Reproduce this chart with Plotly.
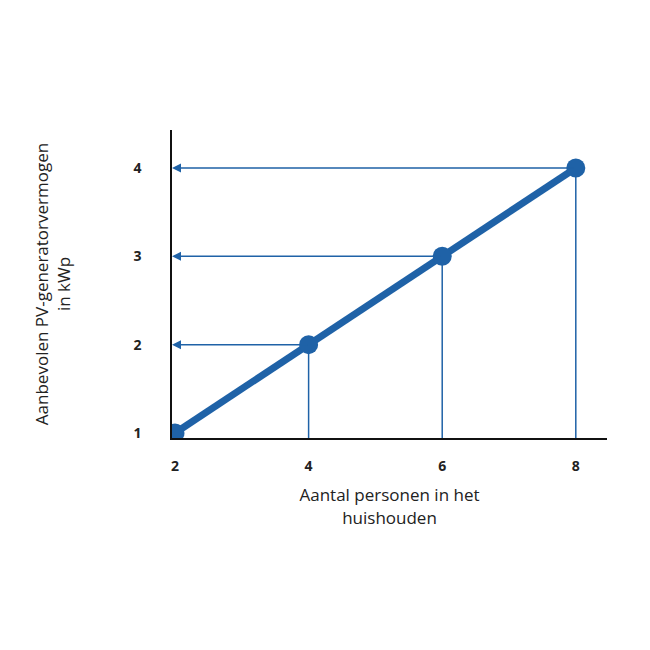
import plotly.graph_objects as go

persons = [2, 4, 6, 8]
kwp = [1, 2, 3, 4]
x_ticks = [2, 4, 6, 8]
y_ticks = [1, 2, 3, 4]
blue = "#1f62a7"
x0, y0 = 1.955, 0.943

fig = go.Figure()
for xv, yv in zip(persons[1:], kwp[1:]):
    fig.add_trace(go.Scatter(x=[xv, xv], y=[y0, yv], mode="lines",
                             line=dict(color=blue, width=1.5), hoverinfo="skip"))
    fig.add_annotation(x=x0, y=yv, ax=xv, ay=yv, xref="x", yref="y", axref="x", ayref="y",
                       showarrow=True, arrowhead=2, arrowsize=1.2, arrowwidth=1.5,
                       arrowcolor=blue, text="")
fig.add_trace(go.Scatter(x=persons, y=kwp, mode="lines+markers",
                         line=dict(color=blue, width=7),
                         marker=dict(color=blue, size=19)))

fig.update_layout(
    width=650, height=650, showlegend=False,
    plot_bgcolor="white", paper_bgcolor="white",
    margin=dict(l=164, r=51, t=122, b=220),
    font=dict(family="Open Sans", color="#222"),
    xaxis=dict(range=[x0, 8.467], tickvals=x_ticks, showgrid=False, zeroline=False,
               showline=True, linecolor="#111", linewidth=1.5,
               tickfont=dict(size=14, family="Open Sans", weight="bold"),
               ticklabelstandoff=14,
               title=dict(text="Aantal personen in het<br>huishouden", font=dict(size=17), standoff=16)),
    yaxis=dict(range=[y0, 4.43], tickvals=y_ticks, showgrid=False, zeroline=False,
               showline=True, linecolor="#111", linewidth=1.5,
               tickfont=dict(size=14, family="Open Sans", weight="bold"),
               ticklabelstandoff=26,
               title=dict(text="Aanbevolen PV-generatorvermogen<br>in kWp", font=dict(size=17), standoff=58)),
)
fig.write_html("out.html")
